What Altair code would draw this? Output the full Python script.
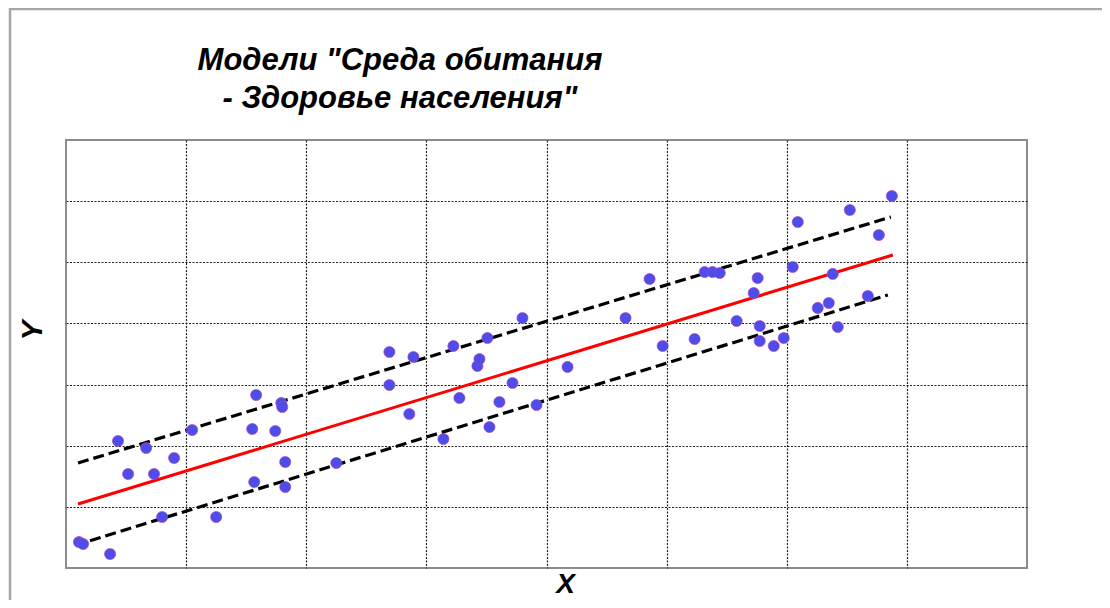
import altair as alt
import pandas as pd

# --- data (grid units: x 0..8, y 0..7) ---
pt_x = [0.108, 0.142, 0.367, 0.433, 0.517, 0.667, 0.733, 0.8, 0.9, 1.05,
        1.25, 1.55, 1.583, 1.567, 1.742, 1.792, 1.8, 1.825, 1.825, 2.25,
        2.692, 2.692, 2.858, 2.892, 3.142, 3.225, 3.275, 3.425, 3.442, 3.508,
        3.525, 3.608, 3.717, 3.8, 3.917, 4.175, 4.658, 4.858, 4.967, 5.233,
        5.317, 5.383, 5.442, 5.583, 5.725, 5.758, 5.775, 5.775, 5.892, 5.975,
        6.05, 6.092, 6.258, 6.35, 6.383, 6.425, 6.525, 6.675, 6.767, 6.875]
pt_y = [0.425, 0.393, 0.229, 2.077, 1.537, 1.963, 1.537, 0.834, 1.799, 2.257,
        0.834, 2.273, 2.83, 1.407, 2.241, 2.699, 2.633, 1.734, 1.325, 1.717,
        3.533, 2.993, 2.519, 3.451, 2.11, 3.631, 2.781, 3.304, 3.418, 3.762,
        2.306, 2.715, 3.026, 4.089, 2.666, 3.288, 4.089, 4.727, 3.631, 3.745,
        4.841, 4.841, 4.825, 4.04, 4.498, 4.743, 3.958, 3.713, 3.631, 3.762,
        4.923, 5.659, 4.253, 4.334, 4.809, 3.942, 5.855, 4.449, 5.446, 6.084]

fit_x = [0.1, 6.883]
fit_y = [1.047, 5.12]
upper_x = [0.1, 6.867]
upper_y = [1.717, 5.741]
lower_x = [0.2, 6.842]
lower_y = [0.447, 4.465]

title_lines = ["Модели \"Среда обитания", "- Здоровье населения\""]
x_title = "X"
y_title = "Y"

FONT = "Liberation Sans"

pts = pd.DataFrame({"x": pt_x, "y": pt_y})
fit = pd.DataFrame({"x": fit_x, "y": fit_y})
bands = pd.DataFrame({
    "x": upper_x + lower_x,
    "y": upper_y + lower_y,
    "band": ["upper"] * len(upper_x) + ["lower"] * len(lower_x),
})

xscale = alt.Scale(domain=[0, 8], nice=False, zero=False)
yscale = alt.Scale(domain=[0, 7], nice=False, zero=False)

x_enc = alt.X(
    "x:Q", scale=xscale,
    axis=alt.Axis(
        values=[1, 2, 3, 4, 5, 6, 7], labels=False, ticks=False, domain=False,
        grid=True, gridColor="#222222", gridDash=[2, 1.5], gridWidth=1.2, gridOpacity=1,
        title=x_title, titleFont=FONT, titleFontSize=28, titleFontWeight="bold",
        titleFontStyle="italic", titleColor="black", titleX=499, titleY=24,
        titleAlign="center", titleBaseline="alphabetic",
    ),
)
y_enc = alt.Y(
    "y:Q", scale=yscale,
    axis=alt.Axis(
        values=[1, 2, 3, 4, 5, 6], labels=False, ticks=False, domain=False,
        grid=True, gridColor="#222222", gridDash=[2, 1.5], gridWidth=1.2, gridOpacity=1,
        title=y_title, titleFont=FONT, titleFontSize=30, titleFontWeight="bold",
        titleFontStyle="italic", titleColor="black", titleAngle=270,
        titleX=-25, titleY=190, titleAlign="center", titleBaseline="alphabetic",
    ),
)

band_layer = alt.Chart(bands).mark_line(
    color="black", strokeWidth=3.2, strokeDash=[11, 5]
).encode(x=x_enc, y=y_enc, detail="band:N")

fit_layer = alt.Chart(fit).mark_line(color="#ff0000", strokeWidth=3).encode(x=x_enc, y=y_enc)

pt_layer = alt.Chart(pts).mark_point(
    filled=True, shape="circle", size=125, fill="#4d4de8", fillOpacity=1,
    stroke="#b040c0", strokeWidth=0.8, strokeOpacity=0.8, opacity=1
).encode(x=x_enc, y=y_enc)

t1 = alt.Chart(pd.DataFrame({"t": [title_lines[0]]})).mark_text(
    font=FONT, fontSize=31, fontWeight="bold", fontStyle="italic",
    align="center", baseline="alphabetic", color="black"
).encode(x=alt.value(334), y=alt.value(-70), text="t:N")

t2 = alt.Chart(pd.DataFrame({"t": [title_lines[1]]})).mark_text(
    font=FONT, fontSize=31, fontWeight="bold", fontStyle="italic",
    align="center", baseline="alphabetic", color="black"
).encode(x=alt.value(334), y=alt.value(-32), text="t:N")

frame_df = pd.DataFrame({"a": [0]})
frame_top = alt.Chart(frame_df).mark_rule(color="#a6a6a6", strokeWidth=2.5).encode(
    x=alt.value(-57), x2=alt.value(1036), y=alt.value(-131))
frame_left = alt.Chart(frame_df).mark_rule(color="#a6a6a6", strokeWidth=2.5).encode(
    x=alt.value(-56), y=alt.value(-132), y2=alt.value(460))

chart = alt.layer(
    frame_top, frame_left, band_layer, fit_layer, pt_layer, t1, t2
).properties(
    width=961, height=428,
    padding={"left": 58, "top": 132, "right": 75, "bottom": 32},
    autosize="none",
    background="white",
).configure_view(
    stroke="#8c8c8c", strokeWidth=2
)

chart.save("out.html", embed_options={"renderer": "svg", "actions": False})
